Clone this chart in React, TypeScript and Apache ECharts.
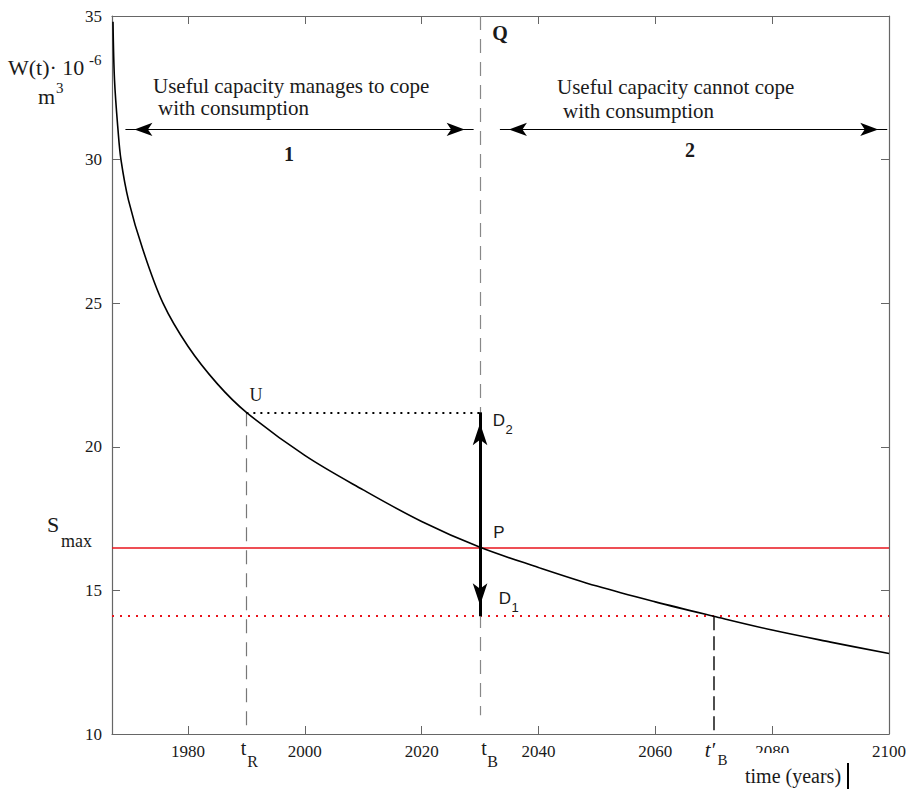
import { useEffect, useRef } from 'react';
import * as echarts from 'echarts';

// ---- data ----
const years = [1967.17, 1967.43, 1968.03, 1968.54, 1969.82, 1972.31, 1975.73, 1980, 1985, 1990, 2000, 2010, 2020, 2030, 2040, 2050, 2060, 2070, 2080, 2090, 2100];
const capacity = [34.8, 32.77, 31.03, 29.99, 28.59, 26.85, 25.0, 23.5, 22.2, 21.2, 19.7, 18.5, 17.4, 16.5, 15.8, 15.15, 14.6, 14.1, 13.62, 13.2, 12.8];
const xTickValues = [1980, 2000, 2020, 2040, 2060, 2080, 2100];
const xRange = [1967, 2100];
const yRange = [10, 35];
const yStep = 5;

// key instants / levels
const tR = 1990;
const tB = 2030;
const tB2 = 2070;
const uLevel = 21.2;
const sMax = 16.5;
const d1Level = 14.1;
const arrowLevel = 31.05;
const zone1 = [1969.3, 2028.9];
const zone2 = [2033.4, 2099.7];
const qLineBottom = 10.65;
const tRLineBottom = 10.2;

const SERIF = 'Liberation Serif';
const SANS = 'Liberation Sans';
const INK = '#1a1a1a';
const FRAME = '#666';
const RED = '#e8141c';

function txt(text: string, x: number, y: number, size: number, opts: any = {}) {
  return {
    type: 'text',
    x,
    y,
    z: 100,
    style: {
      text,
      fontSize: size,
      fontFamily: opts.family || SERIF,
      fontWeight: opts.bold ? 'bold' : 'normal',
      fontStyle: opts.italic ? 'italic' : 'normal',
      fill: INK,
      align: opts.align || 'left',
      verticalAlign: 'middle',
    },
  };
}

export default function App() {
  const ref = useRef<HTMLDivElement>(null);
  useEffect(() => {
    const chart = echarts.init(ref.current!, null, { renderer: 'svg' });
    const curve = years.map((y, i) => [y, capacity[i]]);

    const thin = { color: '#000', width: 1, type: 'solid' };
    const arrowSym = { symbol: 'arrow', symbolSize: [10, 18], symbolOffset: [0, 9] };
    const bigArrow = { symbol: 'arrow', symbolSize: [11, 22], symbolOffset: [0, 11] };

    const markData: any[] = [
      { yAxis: sMax, lineStyle: { color: RED, width: 1.6, type: 'solid' } },
      { yAxis: d1Level, lineStyle: { color: RED, width: 2.2, type: [2, 6] } },
      [{ coord: [tB, yRange[1]], lineStyle: { color: '#888', width: 1.2, type: [14, 9] } }, { coord: [tB, qLineBottom] }],
      [{ coord: [tR, uLevel], lineStyle: { color: '#777', width: 1.2, type: [14, 9] } }, { coord: [tR, tRLineBottom] }],
      [{ coord: [tB2, d1Level], lineStyle: { color: '#222', width: 1.6, type: [14, 6] } }, { coord: [tB2, yRange[0]] }],
      [{ coord: [tR, uLevel], lineStyle: { color: '#000', width: 2.2, type: [2, 5] } }, { coord: [tB, uLevel] }],
      [{ coord: [zone1[0], arrowLevel], ...arrowSym, lineStyle: thin }, { coord: [zone1[1], arrowLevel], ...arrowSym }],
      [{ coord: [zone2[0], arrowLevel], ...arrowSym, lineStyle: thin }, { coord: [zone2[1], arrowLevel], ...arrowSym }],
      [{ coord: [tB, uLevel], ...bigArrow, lineStyle: { color: '#000', width: 3, type: 'solid' } }, { coord: [tB, d1Level], ...bigArrow }],
    ];

    const xAxisCommon = {
      type: 'value',
      min: xRange[0],
      max: xRange[1],
      splitLine: { show: false },
      axisLine: { show: true, onZero: false, lineStyle: { color: FRAME, width: 1.2 } },
      axisTick: { show: true, inside: true, length: 8, customValues: xTickValues, lineStyle: { color: FRAME } },
    };
    const yAxisCommon = {
      type: 'value',
      min: yRange[0],
      max: yRange[1],
      interval: yStep,
      splitLine: { show: false },
      axisLine: { show: true, onZero: false, lineStyle: { color: FRAME, width: 1.2 } },
      axisTick: { show: true, inside: true, length: 8, lineStyle: { color: FRAME } },
    };

    const graphics: any[] = [
      txt('W(t)· 10', 8, 67, 22),
      txt('-6', 89, 60, 15),
      txt('m', 38, 96, 22),
      txt('3', 56, 88, 15),
      txt('S', 47, 524, 22),
      txt('max', 61, 541, 18),
      txt('Useful capacity manages to cope', 153, 86, 21),
      txt('with consumption', 158, 108, 21),
      txt('Useful capacity cannot cope', 557, 87, 21),
      txt('with consumption', 563, 111, 21),
      txt('1', 289, 154, 20, { bold: true, align: 'center' }),
      txt('2', 690, 150, 20, { bold: true, align: 'center' }),
      txt('Q', 500, 33, 20, { bold: true, align: 'center' }),
      txt('U', 256, 395, 18, { align: 'center' }),
      txt('D', 499, 420, 17, { family: SANS, align: 'center' }),
      txt('2', 509, 429, 13, { family: SANS, align: 'center' }),
      txt('P', 499, 532, 17, { family: SANS, align: 'center' }),
      txt('D', 505, 598, 17, { family: SANS, align: 'center' }),
      txt('1', 515, 607, 13, { family: SANS, align: 'center' }),
      txt('t', 243.5, 748, 20, { align: 'center' }),
      txt('R', 252.5, 761, 16, { align: 'center' }),
      txt('t', 484, 748, 20, { align: 'center' }),
      txt('B', 492.5, 761, 16, { align: 'center' }),
      txt('t′', 710, 750, 21, { italic: true, align: 'center' }),
      txt('B', 722.5, 760, 15, { align: 'center' }),
      { type: 'rect', z: 90, shape: { x: 740, y: 753, width: 107, height: 36 }, style: { fill: '#fff' } },
      txt('time (years)', 745, 776, 20),
      { type: 'line', z: 100, shape: { x1: 848, y1: 763, x2: 848, y2: 789 }, style: { stroke: '#000', lineWidth: 2 } },
    ];

    const richNum = { n: { fontSize: 17, fontFamily: SERIF, fontWeight: 'normal', color: INK } };

    chart.setOption({
      animation: false,
      backgroundColor: '#fff',
      textStyle: { fontFamily: SERIF },
      grid: { left: 112, right: 22, top: 16, bottom: 55, containLabel: false },
      xAxis: [
        {
          ...xAxisCommon,
          position: 'bottom',
          axisLabel: {
            show: true,
            customValues: xTickValues,
            margin: 9,
            fontSize: 17,
            fontFamily: SERIF,
            color: INK,
            rich: richNum,
            formatter: (v: number) => `{n|${v}}`,
          },
        },
        { ...xAxisCommon, position: 'top', axisLabel: { show: false } },
      ],
      yAxis: [
        {
          ...yAxisCommon,
          position: 'left',
          axisLabel: {
            show: true,
            margin: 10,
            fontSize: 17,
            fontFamily: SERIF,
            color: INK,
            rich: richNum,
            formatter: (v: number) => `{n|${v}}`,
          },
        },
        { ...yAxisCommon, position: 'right', axisLabel: { show: false } },
      ],
      series: [
        {
          type: 'line',
          xAxisIndex: 0,
          yAxisIndex: 0,
          data: curve,
          symbol: 'none',
          smooth: 0.35,
          clip: false,
          lineStyle: { color: '#000', width: 1.6 },
          z: 5,
          markLine: {
            silent: true,
            symbol: ['none', 'none'],
            label: { show: false },
            emphasis: { disabled: true },
            data: markData,
            z: 3,
          },
        },
      ],
      graphic: graphics,
    });
    return () => chart.dispose();
  }, []);
  return (
    <div
      ref={ref}
      style={{ position: 'fixed', left: 0, top: 0, width: 911, height: 789, background: '#fff' }}
    />
  );
}
